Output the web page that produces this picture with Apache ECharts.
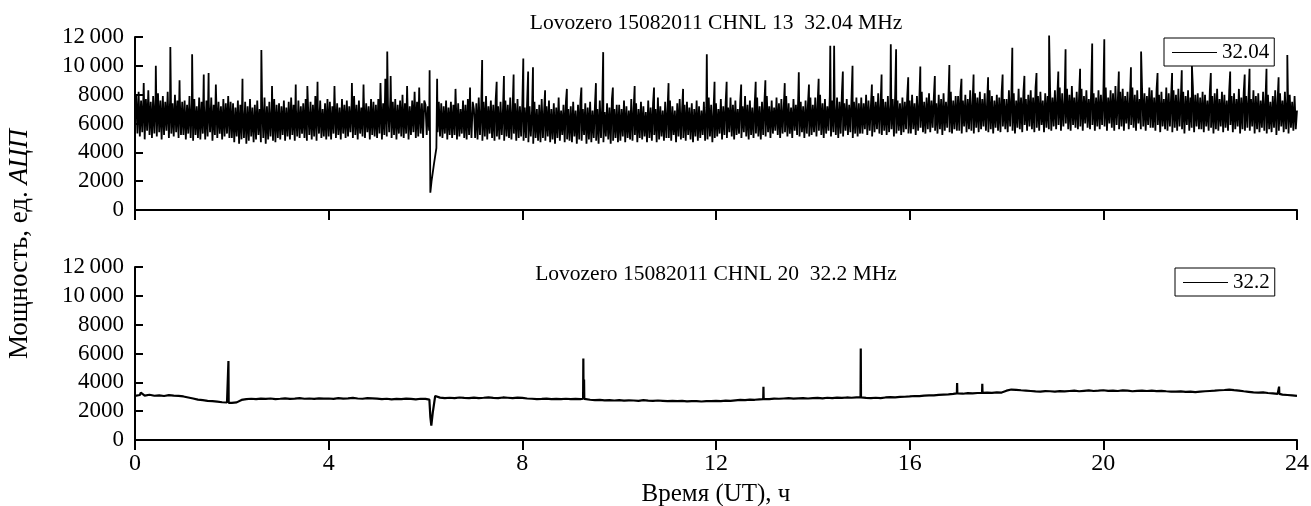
<!DOCTYPE html>
<html>
<head>
<meta charset="utf-8">
<script src="https://cdn.jsdelivr.net/npm/echarts@6/dist/echarts.min.js"></script>
<style>
  html, body { margin: 0; padding: 0; background: #ffffff; }
  #chart { width: 1311px; height: 506px; }
</style>
</head>
<body>
<div id="chart"></div>
<script>
// Receiver power, Lovozero, 15 Aug 2011 — two channels over 24 h UT

const xTickHours = [0, 4, 8, 12, 16, 20, 24];
const yTickValues = [0, 2000, 4000, 6000, 8000, 10000, 12000];

const panelTitles = [
  'Lovozero 15082011 CHNL 13  32.04 MHz',
  'Lovozero 15082011 CHNL 20  32.2 MHz'
];
const seriesNames = ['32.04', '32.2'];

// Channel 13 (32.04 MHz): samples every 0.025 h, one row per hour
const chnl13Step = 0.025;
const chnl13Base = [
  6300, 7900, 5300, 8200, 5100, 7600, 5400, 8000, 4900, 7700, 5500, 8300, 5200, 7500, 5000, 7900, 5300, 7800, 5100, 8100,
  5400, 7600, 4900, 7900, 5200, 7500, 5500, 8200, 5000, 7700, 5300, 7400, 5100, 8000, 5400, 7600, 5000, 7800, 5200, 7500,
  5200, 7600, 4900, 7300, 5300, 7900, 5000, 7400, 4800, 7700, 5200, 7200, 5000, 7800, 4900, 7500, 5300, 7300, 4900, 7600,
  5100, 7400, 5400, 7800, 4800, 7300, 5200, 8000, 5000, 7500, 5300, 7200, 4900, 7700, 5100, 7400, 5300, 7900, 5000, 7500,
  5000, 7400, 4700, 7100, 5100, 7600, 4600, 7300, 4900, 7000, 5000, 7500, 4600, 7200, 4800, 7700, 5100, 7100, 4700, 7300,
  4900, 7600, 5200, 7000, 4700, 7400, 5000, 7800, 4600, 7200, 4900, 7500, 5100, 7100, 4800, 7700, 4700, 7300, 5000, 7400,
  4900, 7200, 5200, 7600, 4800, 7100, 5100, 7500, 4900, 7800, 5200, 7300, 4800, 7000, 5100, 7600, 5000, 7200, 5300, 7400,
  5000, 7700, 4800, 7100, 5200, 7500, 4900, 7300, 5100, 7900, 4800, 7200, 5300, 7600, 5000, 7000, 5100, 7400, 4900, 7700,
  5100, 7500, 4900, 7200, 5300, 7800, 5000, 7400, 5200, 7100, 4900, 7700, 5300, 7300, 5000, 7600, 5100, 7200, 5400, 7500,
  5000, 7900, 5200, 7300, 4900, 7600, 5300, 7100, 5100, 7800, 5000, 7400, 5400, 7200, 4900, 7700, 5200, 7500, 5100, 7300,
  5000, 7700, 5300, 8100, 4900, 7400, 5200, 7800, 5100, 7300, 5400, 7900, 5000, 7500, 5200, 7700, 4900, 7300, 5300, 7600,
  5100, 8000, 5000, 7400, 5300, 7800, 4900, 7200, 5200, 7600, 5400, 8200, 5000, 7500, 5100, 7700, 5300, 7400, 5000, 7600,
  7300, 5200, 7200, 5500, 1200, 2000, 2600, 3200, 3300, 4300, 5400, 7500, 5100, 7400, 5000, 7200, 5300, 7600, 4900, 7100,
  5200, 7500, 5000, 7300, 5200, 7800, 4900, 7400, 5100, 7000, 5300, 7600, 5000, 7300, 4900, 7700, 5200, 7100, 5000, 7500,
  7000, 5000, 7400, 4900, 7800, 5200, 7100, 4800, 7500, 5100, 7900, 4900, 7200, 5300, 7600, 5000, 7300, 4800, 7700, 5100,
  7200, 4900, 7500, 5200, 7000, 4800, 7600, 5100, 7300, 5000, 7800, 4900, 7100, 5300, 7400, 4800, 7700, 5000, 7200, 5100,
  7400, 4800, 7100, 5000, 7600, 4700, 7200, 5100, 6900, 4600, 7500, 5000, 7000, 4800, 7300, 4700, 7700, 5000, 6900, 4800,
  7200, 5100, 7600, 4700, 7000, 4900, 7400, 4600, 7100, 5000, 7800, 4800, 6900, 5200, 7300, 4700, 7500, 4900, 7000, 4800,
  7200, 4700, 7500, 5100, 6900, 4600, 7300, 4900, 7600, 4800, 7000, 5200, 7400, 4600, 7100, 4900, 7500, 4700, 6900, 5000,
  7300, 4800, 7000, 4600, 7600, 5000, 7200, 4700, 6800, 5100, 7400, 4900, 7100, 4600, 7700, 4800, 7000, 5000, 7300, 4700,
  7300, 4800, 7000, 5100, 7600, 4700, 7200, 5000, 6900, 4900, 7700, 4800, 7100, 5200, 7400, 4700, 7000, 5000, 7500, 4900,
  7200, 5100, 6800, 4700, 7600, 5000, 7100, 4800, 7400, 5200, 7000, 4700, 7800, 4900, 7200, 5100, 6900, 4800, 7500, 5000,
  7100, 5000, 7600, 4800, 7200, 5200, 6900, 4700, 7400, 5100, 7700, 4900, 7000, 5000, 7300, 4800, 7500, 5200, 7100, 4900,
  7400, 4700, 7000, 5100, 7600, 4800, 7200, 5000, 6900, 5200, 7500, 4800, 7100, 4900, 7800, 5100, 7300, 4700, 7000, 5000,
  7400, 5100, 7000, 5300, 7700, 4900, 7200, 5200, 7500, 5000, 7100, 5400, 7800, 5100, 7300, 4900, 7600, 5200, 7000, 5300,
  7500, 5000, 7200, 5400, 7900, 5100, 7300, 4900, 7600, 5200, 7100, 5000, 7400, 5300, 7800, 5100, 7200, 4900, 7500, 5200,
  7500, 5100, 7900, 5400, 7200, 5000, 7600, 5300, 7100, 5500, 7800, 5200, 7400, 5000, 7700, 5300, 7200, 5400, 7900, 5100,
  7400, 5300, 7100, 5000, 7700, 5500, 7300, 5200, 8000, 5100, 7500, 5400, 7200, 5000, 7600, 5300, 7400, 5100, 7800, 5200,
  7300, 5400, 7800, 5100, 7500, 5500, 8000, 5200, 7400, 5000, 7700, 5300, 7200, 5500, 7900, 5100, 7600, 5400, 7300, 5200,
  7800, 5000, 7500, 5300, 8100, 5100, 7400, 5500, 7700, 5200, 7300, 5400, 7900, 5000, 7500, 5300, 7800, 5100, 7400, 5300,
  7800, 5300, 7400, 5600, 8000, 5200, 7600, 5500, 7300, 5100, 7900, 5400, 7500, 5600, 8100, 5300, 7400, 5200, 7700, 5500,
  7500, 5200, 7900, 5400, 7300, 5600, 7700, 5100, 8000, 5300, 7600, 5500, 7400, 5200, 7800, 5400, 7500, 5600, 7900, 5300,
  7600, 5300, 8000, 5600, 7400, 5200, 7900, 5500, 7700, 5700, 8200, 5400, 7500, 5300, 7800, 5600, 8100, 5400, 7600, 5700,
  7900, 5500, 7400, 5300, 8000, 5600, 7700, 5200, 8100, 5500, 7500, 5700, 7800, 5400, 8200, 5300, 7600, 5600, 7900, 5500,
  7900, 5500, 8200, 5300, 7600, 5800, 8000, 5400, 7700, 5600, 8300, 5500, 7500, 5300, 8100, 5700, 7800, 5400, 8200, 5600,
  7700, 5800, 8100, 5500, 7500, 5400, 8300, 5600, 7900, 5300, 7600, 5700, 8000, 5500, 7800, 5400, 8200, 5800, 7700, 5600,
  7700, 5400, 8300, 5800, 7900, 5500, 8100, 5300, 7600, 5700, 8400, 5600, 7800, 5400, 8200, 5900, 7700, 5500, 8000, 5800,
  8300, 5600, 7800, 5400, 8500, 5700, 7900, 5500, 8200, 5900, 7600, 5400, 8100, 5700, 7900, 5600, 8400, 5500, 7800, 5800,
  8300, 5600, 7900, 5900, 8500, 5500, 8100, 5800, 7700, 6000, 8400, 5600, 8000, 5500, 8600, 5900, 7800, 5700, 8200, 5600,
  8000, 5800, 8400, 5500, 7900, 6000, 8300, 5700, 7700, 5600, 8500, 5900, 8100, 5500, 7800, 5800, 8300, 5600, 8000, 5900,
  8000, 5800, 8500, 5500, 7800, 6000, 8300, 5700, 8100, 5500, 8600, 5900, 7700, 5600, 8200, 5800, 8400, 5500, 7900, 6000,
  8200, 5600, 7800, 5900, 8500, 5700, 8000, 5500, 8300, 6000, 7700, 5600, 8400, 5800, 8100, 5500, 7900, 5900, 8500, 5700,
  8300, 5700, 7800, 5500, 8400, 5900, 8000, 5400, 8200, 5800, 7700, 5600, 8500, 5500, 8100, 5800, 7900, 5400, 8300, 5700,
  8000, 5500, 8400, 5800, 7700, 5600, 8200, 5300, 7900, 5900, 8300, 5500, 7800, 5700, 8500, 5400, 8000, 5800, 8100, 5600,
  7800, 5600, 8200, 5400, 8000, 5800, 7600, 5500, 8300, 5700, 7900, 5300, 8100, 5600, 8400, 5500, 7700, 5800, 8200, 5400,
  8000, 5700, 7600, 5500, 8300, 5900, 7900, 5400, 8100, 5600, 7700, 5800, 8400, 5300, 7800, 5600, 8200, 5500, 7900, 5700,
  8000, 5500, 7700, 5800, 8300, 5300, 7900, 5600, 8100, 5400, 7600, 5700, 8200, 5500, 7800, 5300, 8000, 5600, 7500, 5400,
  7900, 5700, 8300, 5200, 7700, 5500, 8100, 5800, 7600, 5400, 8200, 5600, 7800, 5300, 8000, 5700, 7500, 5500, 7900, 5600,
  6900
];
// Channel 13 bursts: [hour, value]
const chnl13Events = [
  [0.18, 8800], [0.43, 10000], [0.73, 11300], [0.92, 9000],
  [1.18, 10800], [1.42, 9400], [1.52, 9500], [1.67, 8700],
  [2.22, 9100], [2.61, 11100], [2.83, 8600],
  [3.32, 8700], [3.56, 8600], [3.77, 8900],
  [4.12, 8600], [4.48, 8800], [4.72, 8700],
  [5.07, 8800], [5.17, 9100], [5.21, 11000], [5.28, 9300], [5.62, 8600], [5.87, 8500],
  [6.085, 9700], [6.24, 9100],
  [6.62, 8400], [6.92, 8500], [7.17, 10400], [7.47, 8900], [7.62, 9300], [7.82, 9400],
  [8.02, 10500], [8.12, 9600], [8.22, 9900], [8.47, 8300], [8.92, 8400],
  [9.22, 8500], [9.52, 8800], [9.67, 10950], [9.87, 8500],
  [10.32, 8600], [10.72, 8500], [11.02, 8800], [11.32, 8400], [11.81, 10800], [11.97, 8900],
  [12.22, 8900], [12.52, 8700], [12.82, 8900], [13.02, 9000], [13.42, 8800], [13.71, 9550], [13.92, 8700],
  [14.12, 9100], [14.36, 11400], [14.44, 11400], [14.62, 9600], [14.82, 10000],
  [15.22, 8700], [15.42, 9400], [15.61, 11500], [15.72, 11150], [15.97, 9200],
  [16.22, 9950], [16.52, 9300], [16.82, 10050], [17.07, 9100], [17.32, 9400], [17.62, 9200], [17.92, 9400],
  [18.12, 11250], [18.37, 9300], [18.62, 9500], [18.88, 12100],
  [19.07, 9600], [19.22, 11150], [19.52, 9800], [19.77, 11550], [20.02, 11850],
  [20.32, 9600], [20.57, 9900], [20.78, 11000], [21.12, 9500], [21.42, 9500], [21.62, 9700], [21.83, 10000],
  [22.22, 9500], [22.62, 9600], [22.92, 9400], [23.02, 9800], [23.37, 9800], [23.62, 9200], [23.8, 10750]
];

// Channel 20 (32.2 MHz): samples every 0.1 h, one row per hour
const chnl20Step = 0.1;
const chnl20Base = [
  3060, 3120, 3080, 3140, 3070, 3100, 3050, 3110, 3080, 3060,
  3020, 2950, 2880, 2800, 2760, 2720, 2700, 2660, 2620, 2600,
  2570, 2610, 2780, 2840, 2860, 2830, 2870, 2850, 2880, 2840,
  2860, 2890, 2850, 2870, 2900, 2860, 2880, 2850, 2890, 2870,
  2880, 2850, 2900, 2870, 2890, 2920, 2880, 2860, 2900, 2890,
  2870, 2840, 2860, 2820, 2850, 2830, 2870, 2850, 2820, 2860,
  2850, 1600, 3050, 2940, 2900, 2930, 2910, 2950, 2920, 2900,
  2940, 2910, 2930, 2960, 2920, 2900, 2950, 2930, 2910, 2940,
  2920, 2880, 2860, 2840, 2850, 2870, 2830, 2850, 2840, 2860,
  2830, 2850, 2840, 2870, 2790, 2760, 2780, 2750, 2770, 2740,
  2760, 2730, 2750, 2740, 2720, 2760, 2730, 2710, 2740, 2720,
  2700, 2720, 2690, 2710, 2680, 2700, 2690, 2670, 2700, 2690,
  2710, 2700, 2730, 2720, 2750, 2780, 2760, 2800, 2790, 2820,
  2850, 2830, 2870, 2860, 2880, 2900, 2870, 2890, 2910, 2880,
  2900, 2920, 2890, 2930, 2910, 2940, 2920, 2950, 2930, 2960,
  2940, 2920, 2900, 2930, 2910, 2950, 2970, 2960, 2990, 3000,
  3020, 3050, 3040, 3080, 3100, 3090, 3130, 3150, 3170, 3200,
  3220, 3210, 3250, 3230, 3260, 3240, 3280, 3270, 3300, 3290,
  3420, 3500, 3480, 3450, 3430, 3400, 3370, 3360, 3390, 3380,
  3360, 3390, 3370, 3400, 3420, 3380, 3410, 3440, 3400, 3420,
  3450, 3410, 3430, 3400, 3440, 3420, 3380, 3410, 3430, 3400,
  3420, 3390, 3410, 3380, 3360, 3350, 3370, 3340, 3360, 3320,
  3350, 3380, 3400, 3420, 3450, 3470, 3500, 3460, 3430, 3380,
  3340, 3300, 3280, 3300, 3260, 3240, 3200, 3150, 3120, 3090,
  3060
];
// Channel 20 narrow bursts and the dip near 6 h: [hour, value]
const chnl20Events = [
  [0.12, 3280],
  [1.925, 2580], [1.93, 5480], [1.935, 2580],
  [6.08, 2800], [6.12, 1000], [6.15, 1900],
  [9.255, 2860], [9.26, 5650], [9.265, 2880], [9.275, 4200], [9.28, 2850],
  [12.975, 2830], [12.98, 3700], [12.985, 2830],
  [14.985, 2950], [14.99, 6350], [14.995, 2950],
  [16.975, 3230], [16.98, 3950], [16.985, 3230],
  [17.495, 3270], [17.5, 3900], [17.505, 3270],
  [23.625, 3220], [23.63, 3700], [23.635, 3200]
];

function buildTrace(base, step, events) {
  const pts = base.map((v, i) => [Math.round(i * step * 1000) / 1000, v]);
  return pts.concat(events).sort((a, b) => a[0] - b[0]);
}

const serifFont = 'Liberation Serif';
const ink = '#000000';

function fmtY(v) {
  const s = String(v);
  return v >= 10000 ? s.slice(0, 2) + '\u2009' + s.slice(2) : s;
}

function xAxisFor(gridIndex, showLabels) {
  return {
    type: 'value', gridIndex: gridIndex,
    min: xTickHours[0], max: xTickHours[xTickHours.length - 1], interval: 4,
    axisLine: { show: true, onZero: false, lineStyle: { color: ink, width: 2 } },
    axisTick: { show: true, inside: false, length: 10, lineStyle: { color: ink, width: 2 } },
    axisLabel: {
      show: showLabels, margin: 12, color: ink, fontFamily: serifFont, fontSize: 24,
      formatter: v => xTickHours.indexOf(v) >= 0 ? String(v) : ''
    },
    splitLine: { show: false },
    name: showLabels ? 'Время (UT), ч' : '',
    nameLocation: 'middle', nameGap: 42,
    nameTextStyle: { color: ink, fontFamily: serifFont, fontSize: 25 }
  };
}

function yAxisFor(gridIndex) {
  return {
    type: 'value', gridIndex: gridIndex,
    min: yTickValues[0], max: yTickValues[yTickValues.length - 1], interval: 2000,
    axisLine: { show: true, lineStyle: { color: ink, width: 2 } },
    axisTick: { show: true, inside: true, length: 8, lineStyle: { color: ink, width: 2 } },
    axisLabel: { margin: 11, color: ink, fontFamily: serifFont, fontSize: 23, formatter: fmtY },
    splitLine: { show: false }
  };
}

function legendFor(name, left, top) {
  return {
    data: [name], left: left, top: top, padding: [4, 5, 3, 8], itemGap: 0,
    icon: 'rect', itemWidth: 45, itemHeight: 1,
    backgroundColor: '#ffffff', borderColor: ink, borderWidth: 1, borderRadius: 0,
    itemStyle: { color: ink, borderWidth: 0 },
    textStyle: { color: ink, fontFamily: serifFont, fontSize: 21 }
  };
}

const chart = echarts.init(document.getElementById('chart'), null, { renderer: 'canvas' });
chart.setOption({
  backgroundColor: '#ffffff',
  animation: false,
  title: [
    { text: panelTitles[0], left: 716, top: 12, textAlign: 'center', padding: 0,
      textStyle: { color: ink, fontFamily: serifFont, fontSize: 21.5, fontWeight: 'normal' } },
    { text: panelTitles[1], left: 716, top: 263, textAlign: 'center', padding: 0,
      textStyle: { color: ink, fontFamily: serifFont, fontSize: 21.5, fontWeight: 'normal' } }
  ],
  legend: [legendFor(seriesNames[0], 1164, 38), legendFor(seriesNames[1], 1175, 268)],
  grid: [
    { left: 135, right: 14, top: 37, height: 173, outerBoundsMode: 'none' },
    { left: 135, right: 14, top: 267, height: 173, outerBoundsMode: 'none' }
  ],
  xAxis: [xAxisFor(0, false), xAxisFor(1, true)],
  yAxis: [yAxisFor(0), yAxisFor(1)],
  graphic: [{
    type: 'text', x: 20, y: 244, rotation: Math.PI / 2,
    style: {
      text: '{r|Мощность, ед. }{i|АЦП}',
      align: 'center', verticalAlign: 'middle', fill: ink,
      rich: {
        r: { fontFamily: serifFont, fontSize: 27, fill: ink },
        i: { fontFamily: serifFont, fontSize: 27, fontStyle: 'italic', fill: ink }
      }
    }
  }],
  series: [
    {
      name: seriesNames[0], type: 'line', xAxisIndex: 0, yAxisIndex: 0,
      data: buildTrace(chnl13Base, chnl13Step, chnl13Events),
      showSymbol: false, symbol: 'none', sampling: 'none', clip: false,
      lineStyle: { color: ink, width: 1.8 }, itemStyle: { color: ink }
    },
    {
      name: seriesNames[1], type: 'line', xAxisIndex: 1, yAxisIndex: 1,
      data: buildTrace(chnl20Base, chnl20Step, chnl20Events),
      showSymbol: false, symbol: 'none', sampling: 'none',
      lineStyle: { color: ink, width: 2.2 }, itemStyle: { color: ink }
    }
  ]
});
</script>
</body>
</html>
